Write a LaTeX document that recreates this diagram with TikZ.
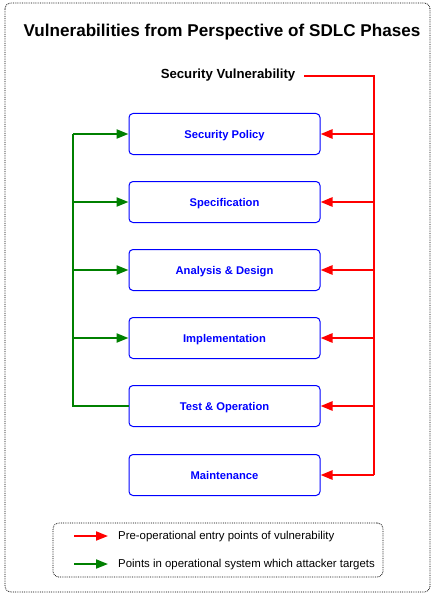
\documentclass[tikz,border=0pt]{standalone}
\usepackage{fontspec}
\setmainfont{Liberation Sans}
\usetikzlibrary{arrows.meta}
\definecolor{vulnred}{RGB}{255,0,0}
\definecolor{attgreen}{RGB}{0,128,0}
\definecolor{phaseblue}{RGB}{0,0,255}
\tikzset{
    phase/.style={rectangle, rounded corners=4pt, draw=phaseblue, text=phaseblue, line width=1pt,
        font=\bfseries\fontsize{11.2}{13}\selectfont, text depth=0pt, minimum width=191pt, minimum height=41pt, inner sep=0pt},
    redline/.style={draw=vulnred, line width=2.6pt},
    greenline/.style={draw=attgreen, line width=2.2pt},
    tip/.style={-{Triangle[length=12pt, width=9pt]}},
    frame/.style={densely dotted, rounded corners=6pt, line width=0.8pt}
}

\begin{document}
\begin{tikzpicture}[x=1pt, y=-1pt]
    \useasboundingbox (0,0) rectangle (437,599);
    \draw[frame] (5,3) rectangle (430,592);

    \node (title) [font=\bfseries\fontsize{17.1}{20}\selectfont] at (222,32) {Vulnerabilities from Perspective of SDLC Phases};
    \node (vuln) [font=\bfseries\fontsize{13.2}{15}\selectfont, inner sep=9pt] at (228,75.5) {Security Vulnerability};

    \node (sp) [phase] at (224.5,134) {Security Policy};
    \node (spec) [phase] at (224.5,202) {Specification};
    \node (ad) [phase] at (224.5,270) {Analysis \& Design};
    \node (impl) [phase] at (224.5,338) {Implementation};
    \node (to) [phase] at (224.5,406) {Test \& Operation};
    \node (mt) [phase] at (224.5,475) {Maintenance};

    % red trunk on the right
    \coordinate (r1) at (374,134);
    \coordinate (r2) at (374,202);
    \coordinate (r3) at (374,270);
    \coordinate (r4) at (374,338);
    \coordinate (r5) at (374,406);
    \coordinate (r6) at (374,475);

    % green trunk on the left
    \coordinate (g1) at (73,134);
    \coordinate (g2) at (73,202);
    \coordinate (g3) at (73,270);
    \coordinate (g4) at (73,338);
    \coordinate (g5) at (73,406);

    \draw[redline, line join=miter] (vuln.east |- 0,76) -| (r6);
    \draw[redline, tip] (r1) -- (sp.east);
    \draw[redline, tip] (r2) -- (spec.east);
    \draw[redline, tip] (r3) -- (ad.east);
    \draw[redline, tip] (r4) -- (impl.east);
    \draw[redline, tip] (r5) -- (to.east);
    \draw[redline, tip] (r6) -- (mt.east);

    \draw[greenline] (to.west) -- (g5) -- (g1);
    \draw[greenline, tip] (g1) -- (sp.west);
    \draw[greenline, tip] (g2) -- (spec.west);
    \draw[greenline, tip] (g3) -- (ad.west);
    \draw[greenline, tip] (g4) -- (impl.west);

    % legend
    \node (legend) [draw, frame, minimum width=330pt, minimum height=54pt, inner sep=0pt] at (218,550) {};
    \coordinate (la1) at (74,536);
    \coordinate (la2) at (108,536);
    \coordinate (lb1) at (74,564);
    \coordinate (lb2) at (108,564);
    \draw[redline, line width=1.8pt, tip] (la1) -- (la2);
    \draw[greenline, line width=1.8pt, tip] (lb1) -- (lb2);
    \node (lta) [anchor=west, font=\fontsize{11.4}{13}\selectfont, inner sep=0pt] at (118,536.5) {Pre-operational entry points of vulnerability};
    \node (ltb) [anchor=west, font=\fontsize{11.4}{13}\selectfont, inner sep=0pt] at (118,564.5) {Points in operational system which attacker targets};
\end{tikzpicture}
\end{document}
